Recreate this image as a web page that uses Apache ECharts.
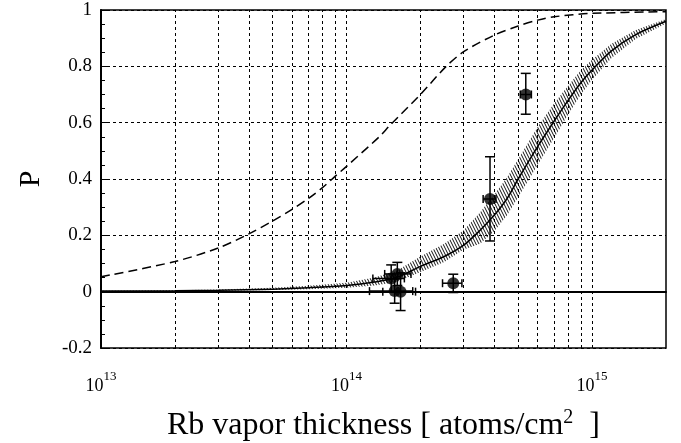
<!DOCTYPE html>
<html>
<head>
<meta charset="utf-8">
<script src="https://cdn.jsdelivr.net/npm/echarts@6/dist/echarts.min.js"></script>
<style>
html, body { margin: 0; padding: 0; background: #fff; }
#chart { width: 681px; height: 443px; }
</style>
</head>
<body>
<div id="chart"></div>
<script>
// dashed curve (upper model)
var dashX = [1e13, 2e13, 3e13, 4e13, 5e13, 6e13, 7e13, 8e13, 9e13, 1e14, 1.36e14, 1.5e14, 2e14, 2.54e14, 3e14, 4e14, 5e14, 6e14, 7e14, 1e15, 2e15];
var dashY = [0.053, 0.107, 0.155, 0.205, 0.251, 0.292, 0.331, 0.37, 0.41, 0.445, 0.55, 0.59, 0.70, 0.799, 0.852, 0.911, 0.943, 0.964, 0.976, 0.988, 0.994];

// solid fit curve with its uncertainty band
var fitX = [1e13, 2e13, 3e13, 5e13, 7e13, 1e14, 1.3e14, 1.6e14, 2e14, 2.5e14, 3e14, 3.5e14, 4e14, 4.5e14, 5e14, 6e14, 7e14, 8e14, 9e14, 1e15, 1.2e15, 1.5e15, 2e15];
var fitY = [0.002, 0.003, 0.005, 0.009, 0.014, 0.022, 0.034, 0.05, 0.09, 0.125, 0.165, 0.218, 0.272, 0.33, 0.40, 0.515, 0.605, 0.68, 0.742, 0.787, 0.855, 0.912, 0.96];
var bandHi = [0.003, 0.005, 0.008, 0.014, 0.021, 0.032, 0.05, 0.074, 0.125, 0.17, 0.218, 0.282, 0.345, 0.405, 0.47, 0.585, 0.668, 0.732, 0.786, 0.823, 0.88, 0.928, 0.968];
var bandLo = [0.001, 0.002, 0.003, 0.006, 0.009, 0.014, 0.022, 0.034, 0.07, 0.105, 0.15, 0.17, 0.215, 0.27, 0.335, 0.45, 0.545, 0.63, 0.70, 0.752, 0.83, 0.896, 0.952];

// measured points with errors
var ptX   = [3.84e14, 5.37e14, 2.72e14, 1.52e14, 1.61e14, 1.57e14, 1.66e14];
var ptY   = [0.329, 0.70, 0.03, 0.047, 0.063, 0.002, 0.0];
var ptXLo = [3.6e14, 5.1e14, 2.46e14, 1.28e14, 1.43e14, 1.24e14, 1.405e14];
var ptXHi = [4.06e14, 5.66e14, 2.95e14, 1.72e14, 1.83e14, 1.86e14, 1.91e14];
var ptYLo = [0.18, 0.63, -0.003, 0.0, 0.022, -0.041, -0.067];
var ptYHi = [0.479, 0.775, 0.062, 0.095, 0.104, 0.045, 0.067];

var yTicks = [-0.2, 0, 0.2, 0.4, 0.6, 0.8, 1];

var serif = 'Liberation Serif';

// vertical grid lines: every k*10^n on the log axis
var xGrid = [];
for (var n = 13; n <= 14; n++) {
    for (var k = 1; k <= 9; k++) {
        if (n == 13 && k == 1) continue;
        xGrid.push({ xAxis: k * Math.pow(10, n) });
    }
}
xGrid.push({ xAxis: 1e15 });

// hatch pattern for the band (steep "\\\\" strokes)
var hatch = document.createElement('canvas');
hatch.width = 3; hatch.height = 6;
var hc = hatch.getContext('2d');
hc.strokeStyle = '#111';
hc.lineWidth = 1;
hc.beginPath();
hc.moveTo(-1, -2); hc.lineTo(4, 8);
hc.moveTo(-4, -2); hc.lineTo(1, 8);
hc.moveTo(2, -2); hc.lineTo(7, 8);
hc.stroke();

function pairs(xs, ys) {
    return xs.map(function (x, i) { return [x, ys[i]]; });
}

var errData = ptX.map(function (x, i) {
    return [x, ptY[i], ptXLo[i], ptXHi[i], ptYLo[i], ptYHi[i]];
});

var myChart = echarts.init(document.getElementById('chart'));

var option = {
    animation: false,
    grid: {
        left: 101, right: 15, top: 10, bottom: 95,
        containLabel: false,
        outerBoundsMode: 'none',
        show: true, borderColor: '#000', borderWidth: 1.5
    },
    xAxis: {
        type: 'log',
        logBase: 10,
        min: 1e13,
        max: 2e15,
        name: 'Rb vapor thickness [ atoms/cm{s|2}  ]',
        nameLocation: 'middle',
        nameGap: 60,
        nameTextStyle: {
            fontFamily: serif, fontSize: 32, color: '#000',
            rich: { s: { fontFamily: serif, fontSize: 20, color: '#000', padding: [0, 0, 16, 0] } }
        },
        axisLine: { lineStyle: { color: '#000', width: 2 } },
        axisTick: { show: false },
        splitLine: { show: false },
        axisLabel: {
            margin: 22,
            formatter: function (v) {
                var e = Math.round(Math.log10(v));
                if (Math.abs(v - Math.pow(10, e)) / v > 1e-6) return '';
                return '{b|10}{s|' + e + '}';
            },
            rich: {
                b: { fontFamily: serif, fontSize: 18, color: '#000' },
                s: { fontFamily: serif, fontSize: 13, color: '#000', padding: [0, 0, 19, 0] }
            }
        }
    },
    yAxis: {
        type: 'value',
        min: -0.2,
        max: 1,
        interval: 0.2,
        name: 'P',
        nameLocation: 'middle',
        nameGap: 55,
        nameTextStyle: { fontFamily: serif, fontSize: 30, color: '#000' },
        axisLine: { show: true, lineStyle: { color: '#000', width: 2 } },
        axisTick: { show: true, inside: true, length: 8, lineStyle: { color: '#000', width: 1 } },
        minorTick: { show: true, splitNumber: 4, length: 4, lineStyle: { color: '#000', width: 1 } },
        axisLabel: {
            margin: 9,
            fontFamily: serif, fontSize: 19, color: '#000',
            formatter: function (v) {
                var t = yTicks.filter(function (y) { return Math.abs(y - v) < 1e-6; });
                return t.length ? String(t[0]) : '';
            }
        },
        splitLine: { show: true, lineStyle: { color: '#000', type: [3, 3], width: 1 } }
    },
    series: [
        {
            // vertical grid + zero line
            type: 'line',
            data: [],
            z: 1,
            markLine: {
                silent: true,
                symbol: 'none',
                label: { show: false },
                lineStyle: { color: '#000', type: [3, 3], width: 1 },
                data: xGrid.concat([{ yAxis: 0, lineStyle: { type: 'solid', width: 1.5 } }])
            }
        },
        {
            // hatched band, drawn once as a polygon through the axes
            type: 'custom',
            data: pairs(fitX, fitY),
            encode: { x: 0, y: 1 },
            z: 2,
            silent: true,
            renderItem: function (params, api) {
                if (params.dataIndex !== 0) return null;
                var pts = [];
                for (var i = 0; i < fitX.length; i++) pts.push(api.coord([fitX[i], bandHi[i]]));
                for (var j = fitX.length - 1; j >= 0; j--) pts.push(api.coord([fitX[j], bandLo[j]]));
                return {
                    type: 'polygon',
                    shape: { points: pts },
                    style: { fill: { image: hatch, repeat: 'repeat' } }
                };
            }
        },
        {
            type: 'line',
            data: pairs(fitX, fitY),
            symbol: 'none',
            smooth: 0.3,
            lineStyle: { color: '#000', width: 1.5 },
            z: 3
        },
        {
            type: 'line',
            data: pairs(dashX, dashY),
            symbol: 'none',
            smooth: 0.3,
            lineStyle: { color: '#000', width: 1.5, type: [9, 5] },
            z: 3
        },
        {
            type: 'custom',
            data: errData,
            encode: { x: 0, y: 1 },
            z: 4,
            renderItem: function (params, api) {
                var c = api.coord([api.value(0), api.value(1)]);
                var xl = api.coord([api.value(2), api.value(1)]);
                var xh = api.coord([api.value(3), api.value(1)]);
                var yl = api.coord([api.value(0), api.value(4)]);
                var yh = api.coord([api.value(0), api.value(5)]);
                var st = { stroke: '#000', lineWidth: 1.5 };
                var cap = 5, cap2 = 4;
                var lines = [
                    [xl[0], c[1], xh[0], c[1]],
                    [c[0], yl[1], c[0], yh[1]],
                    [xl[0], c[1] - cap2, xl[0], c[1] + cap2],
                    [xh[0], c[1] - cap2, xh[0], c[1] + cap2],
                    [c[0] - cap, yl[1], c[0] + cap, yl[1]],
                    [c[0] - cap, yh[1], c[0] + cap, yh[1]]
                ];
                return {
                    type: 'group',
                    children: lines.map(function (l) {
                        return { type: 'line', shape: { x1: l[0], y1: l[1], x2: l[2], y2: l[3] }, style: st };
                    })
                };
            }
        },
        {
            type: 'scatter',
            data: pairs(ptX, ptY),
            symbol: 'circle',
            symbolSize: 12,
            itemStyle: { color: '#000' },
            z: 5
        }
    ]
};
myChart.setOption(option);
</script>
</body>
</html>
